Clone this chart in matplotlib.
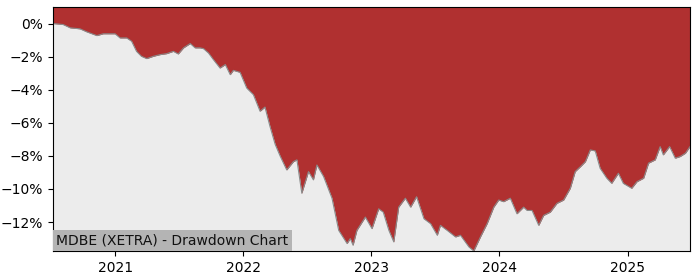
"""
Drawdown chart for MDBE (XETRA), filled red from the top down to the curve.
"""

import numpy as np
import pandas as pd
import matplotlib
matplotlib.use('Agg')
import matplotlib.pyplot as plt
import matplotlib.dates as mdates
from matplotlib.ticker import PercentFormatter

#  Data (drawdown in percent)
DATES = ['2020-07-08', '2020-08-06', '2020-08-26', '2020-09-23', '2020-10-12',
         '2020-11-10', '2020-11-28', '2021-01-01', '2021-01-15', '2021-02-03',
         '2021-02-17', '2021-03-03', '2021-03-17', '2021-04-01', '2021-04-20',
         '2021-05-09', '2021-05-28', '2021-06-16', '2021-06-30', '2021-07-15',
         '2021-08-03', '2021-08-17', '2021-08-31', '2021-09-10', '2021-09-24',
         '2021-10-08', '2021-10-27', '2021-11-11', '2021-11-25', '2021-12-04',
         '2021-12-23', '2022-01-11', '2022-01-30', '2022-02-18', '2022-03-04',
         '2022-03-18', '2022-04-02', '2022-04-16', '2022-05-05', '2022-05-24',
         '2022-06-03', '2022-06-17', '2022-07-06', '2022-07-20', '2022-07-30',
         '2022-08-18', '2022-09-11', '2022-09-30', '2022-10-24', '2022-11-02',
         '2022-11-10', '2022-11-21', '2022-12-15', '2023-01-03', '2023-01-22',
         '2023-02-04', '2023-02-20', '2023-03-06', '2023-03-20', '2023-04-08',
         '2023-04-23', '2023-05-10', '2023-05-31', '2023-06-19', '2023-07-08',
         '2023-07-17', '2023-08-05', '2023-08-29', '2023-09-12', '2023-10-06',
         '2023-10-20', '2023-11-08', '2023-11-27', '2023-12-16', '2023-12-30',
         '2024-01-13', '2024-02-01', '2024-02-20', '2024-03-10', '2024-03-20',
         '2024-04-03', '2024-04-22', '2024-05-06', '2024-05-25', '2024-06-13',
         '2024-07-02', '2024-07-21', '2024-08-04', '2024-08-19', '2024-09-02',
         '2024-09-16', '2024-09-30', '2024-10-14', '2024-11-02', '2024-11-16',
         '2024-12-05', '2024-12-19', '2025-01-12', '2025-01-27', '2025-02-15',
         '2025-03-01', '2025-03-20', '2025-04-03', '2025-04-12', '2025-04-30',
         '2025-05-16', '2025-05-30', '2025-06-14', '2025-06-27']

DRAWDOWN = [0.0, -0.06, -0.26, -0.32, -0.5,
            -0.73, -0.62, -0.62, -0.87, -0.87,
            -1.07, -1.68, -1.98, -2.12, -1.98,
            -1.88, -1.82, -1.68, -1.84, -1.47,
            -1.21, -1.47, -1.47, -1.52, -1.78,
            -2.18, -2.69, -2.48, -3.09, -2.83,
            -2.95, -3.9, -4.3, -5.3, -5.05,
            -6.2, -7.3, -8.0, -8.85, -8.35,
            -8.24, -10.26, -8.95, -9.45, -8.55,
            -9.25, -10.56, -12.5, -13.3, -13.0,
            -13.4, -12.5, -11.7, -12.4, -11.2,
            -11.4, -12.5, -13.2, -11.1, -10.56,
            -11.1, -10.47, -11.8, -12.1, -12.8,
            -12.2, -12.5, -12.9, -12.8, -13.5,
            -13.75, -12.9, -12.1, -11.1, -10.67,
            -10.77, -10.56, -11.5, -11.1, -11.3,
            -11.3, -12.2, -11.6, -11.4, -10.87,
            -10.67, -9.96, -8.95, -8.65, -8.35,
            -7.64, -7.7, -8.75, -9.35, -9.66,
            -9.05, -9.66, -9.96, -9.56, -9.35,
            -8.44, -8.24, -7.44, -7.94, -7.44,
            -8.14, -8.04, -7.84, -7.44]

TITLE = 'MDBE (XETRA) - Drawdown Chart'
Y_TOP = 1.0

#  Main code

DATE_VALUES = pd.to_datetime(DATES)
DRAWDOWN_VALUES = np.array(DRAWDOWN)

FIGURE = plt.figure(figsize=(7, 2.8), dpi=100)
AXES = FIGURE.add_axes([0.0757, 0.1036, 0.91, 0.8714])
AXES.set_facecolor('#ececec')

AXES.fill_between(DATE_VALUES, DRAWDOWN_VALUES, Y_TOP, color='#b03030',
                  linewidth=0)
AXES.plot(DATE_VALUES, DRAWDOWN_VALUES, color='#8a8a8a', linewidth=0.8)

AXES.set_xlim(DATE_VALUES[0], DATE_VALUES[-1])
AXES.set_ylim(DRAWDOWN_VALUES.min(), Y_TOP)
AXES.set_yticks(np.arange(-12, 1, 2))
AXES.yaxis.set_major_formatter(PercentFormatter(decimals=0))
AXES.xaxis.set_major_locator(mdates.YearLocator())
AXES.xaxis.set_major_formatter(mdates.DateFormatter('%Y'))

AXES.text(0.0055, 0.015, TITLE, transform=AXES.transAxes, fontsize=10,
          ha='left', va='bottom', color='#111111',
          bbox=dict(facecolor='#b4b4b4', edgecolor='none', pad=2.5))

plt.savefig('out.png', dpi=100)
